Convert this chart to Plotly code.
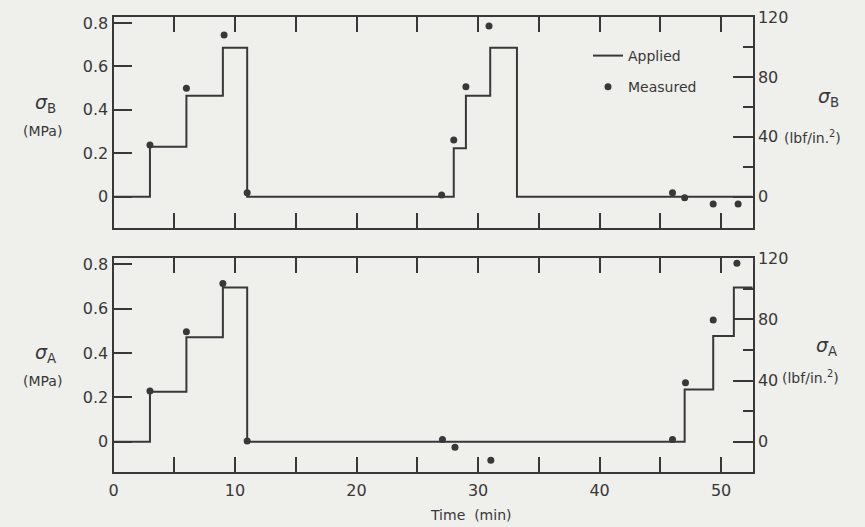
import plotly.graph_objects as go

# ---------------- data ----------------
# Top panel: sigma_B (MPa)
applied_B_t = [0, 3, 6, 9, 11, 28, 29, 31, 33.2, 52.6]
applied_B = [0, 0.23, 0.465, 0.686, 0, 0.223, 0.465, 0.686, 0, 0]
measured_B_t = [3, 6, 9.1, 11, 27, 28, 29, 30.9, 46, 47, 49.35, 51.4]
measured_B = [0.238, 0.499, 0.745, 0.018, 0.008, 0.261, 0.506, 0.786, 0.018, -0.005, -0.034, -0.034]

# Bottom panel: sigma_A (MPa)
applied_A_t = [0, 3, 6, 9, 11, 47, 49.35, 51.05, 52.6]
applied_A = [0, 0.226, 0.471, 0.696, 0, 0.236, 0.477, 0.696, 0.696]
measured_A_t = [3, 6, 9, 11, 27.07, 28.1, 31.05, 46, 47.07, 49.35, 51.3]
measured_A = [0.229, 0.496, 0.714, 0.004, 0.01, -0.025, -0.083, 0.01, 0.266, 0.549, 0.805]

x_ticks = [0, 10, 20, 30, 40, 50]
mpa_ticks = [0, 0.2, 0.4, 0.6, 0.8]
mpa_labels = ["0", "0.2", "0.4", "0.6", "0.8"]
psi_ticks = [0, 40, 80, 120]
PSI_PER_MPA = 145.04

# ---------------- styling ----------------
W, H = 865, 527
INK = "#383838"
BG = "#efefec"
FONT = "DejaVu Sans"
FS = 16

x_dom = [113.5 / W, 752.7 / W]
top_dom = [1 - 228 / H, 1 - 17 / H]
bot_dom = [1 - 471.7 / H, 1 - 258.3 / H]
x_range = [0, 52.6]
top_range = [-0.144, 120 / PSI_PER_MPA]
bot_range = [-0.135, 120 / PSI_PER_MPA]

fig = go.Figure()

line_style = dict(color=INK, width=2, shape="hv")
mk_style = dict(color=INK, size=7, symbol="circle")

fig.add_trace(go.Scatter(x=applied_B_t, y=applied_B, mode="lines", line=line_style,
                         name="Applied", xaxis="x", yaxis="y", legendgroup="a"))
fig.add_trace(go.Scatter(x=measured_B_t, y=measured_B, mode="markers", marker=mk_style,
                         name="Measured", xaxis="x", yaxis="y", legendgroup="b"))
fig.add_trace(go.Scatter(x=applied_A_t, y=applied_A, mode="lines", line=line_style,
                         name="Applied", xaxis="x2", yaxis="y3", showlegend=False))
fig.add_trace(go.Scatter(x=measured_A_t, y=measured_A, mode="markers", marker=mk_style,
                         name="Measured", xaxis="x2", yaxis="y3", showlegend=False))
# same measured data in lbf/in^2 on the right-hand axes (invisible, keeps the axes drawn)
fig.add_trace(go.Scatter(x=measured_B_t, y=[v * PSI_PER_MPA for v in measured_B], mode="markers",
                         marker=dict(opacity=0), xaxis="x", yaxis="y2", showlegend=False,
                         hoverinfo="skip"))
fig.add_trace(go.Scatter(x=measured_A_t, y=[v * PSI_PER_MPA for v in measured_A], mode="markers",
                         marker=dict(opacity=0), xaxis="x2", yaxis="y4", showlegend=False,
                         hoverinfo="skip"))

def xaxis(anchor, labels):
    return dict(domain=x_dom, anchor=anchor, range=x_range, tickvals=x_ticks,
                ticks="inside", ticklen=15, tickwidth=2, tickcolor=INK,
                minor=dict(tickvals=[5, 15, 25, 35, 45], ticks="inside", ticklen=10,
                           tickwidth=2, tickcolor=INK, showgrid=False),
                showline=True, linewidth=2, linecolor=INK, mirror="allticks",
                showgrid=False, zeroline=False, showticklabels=labels, automargin=False,
                ticklabelstandoff=3,
                tickfont=dict(family=FONT, size=FS, color=INK))

def yleft(dom, anchor, rng):
    return dict(domain=dom, anchor=anchor, range=rng, tickvals=mpa_ticks, ticktext=mpa_labels,
                ticks="inside", ticklen=18, tickwidth=2, tickcolor=INK, automargin=False,
                showline=True, linewidth=2, linecolor=INK, showgrid=False, zeroline=False,
                tickfont=dict(family=FONT, size=FS, color=INK))

def yright(overlay, anchor, rng):
    return dict(overlaying=overlay, anchor=anchor, side="right", automargin=False,
                range=[rng[0] * PSI_PER_MPA, rng[1] * PSI_PER_MPA], tickvals=psi_ticks,
                ticks="inside", ticklen=20, tickwidth=2, tickcolor=INK,
                minor=dict(tickvals=[20, 60, 100], ticks="inside", ticklen=10,
                           tickwidth=2, tickcolor=INK, showgrid=False),
                showline=True, linewidth=2, linecolor=INK, showgrid=False, zeroline=False,
                tickfont=dict(family=FONT, size=FS, color=INK))

annotations = []
def txt(x, y, s, size=FS, xanchor="center"):
    annotations.append(dict(x=x / W, y=1 - y / H, xref="paper", yref="paper", text=s,
                            showarrow=False, xanchor=xanchor, yanchor="middle",
                            font=dict(family=FONT, size=size, color=INK)))

# left axis titles
txt(45, 103, "<i>σ</i><sub>B</sub>", size=19)
txt(42, 131, "(MPa)", size=14)
txt(45, 353, "<i>σ</i><sub>A</sub>", size=19)
txt(42, 381, "(MPa)", size=14)
# right axis titles
txt(828, 98, "<i>σ</i><sub>B</sub>", size=19)
txt(782, 137, "(lbf/in.<sup>2</sup>)", size=14, xanchor="left")
txt(826, 346, "<i>σ</i><sub>A</sub>", size=19)
txt(780, 377, "(lbf/in.<sup>2</sup>)", size=14, xanchor="left")
# x title
txt(471, 515, "Time  (min)", size=14)

fig.update_layout(
    width=W, height=H,
    margin=dict(l=0, r=0, t=0, b=0),
    paper_bgcolor=BG, plot_bgcolor=BG,
    font=dict(family=FONT, size=FS, color=INK),
    xaxis=xaxis("y", False),
    xaxis2=xaxis("y3", True),
    yaxis=yleft(top_dom, "x", top_range),
    yaxis2=yright("y", "x", top_range),
    yaxis3=yleft(bot_dom, "x2", bot_range),
    yaxis4=yright("y3", "x2", bot_range),
    showlegend=True,
    legend=dict(x=588 / W, y=1 - 40 / H, xanchor="left", yanchor="top",
                bgcolor="rgba(0,0,0,0)", font=dict(family=FONT, size=14, color=INK),
                traceorder="grouped", tracegroupgap=10),
    annotations=annotations,
)

fig.write_html(
    "out.html",
    config={"displayModeBar": False},
    post_script="document.body.style.margin='0';document.body.style.background='%s';" % BG,
)
